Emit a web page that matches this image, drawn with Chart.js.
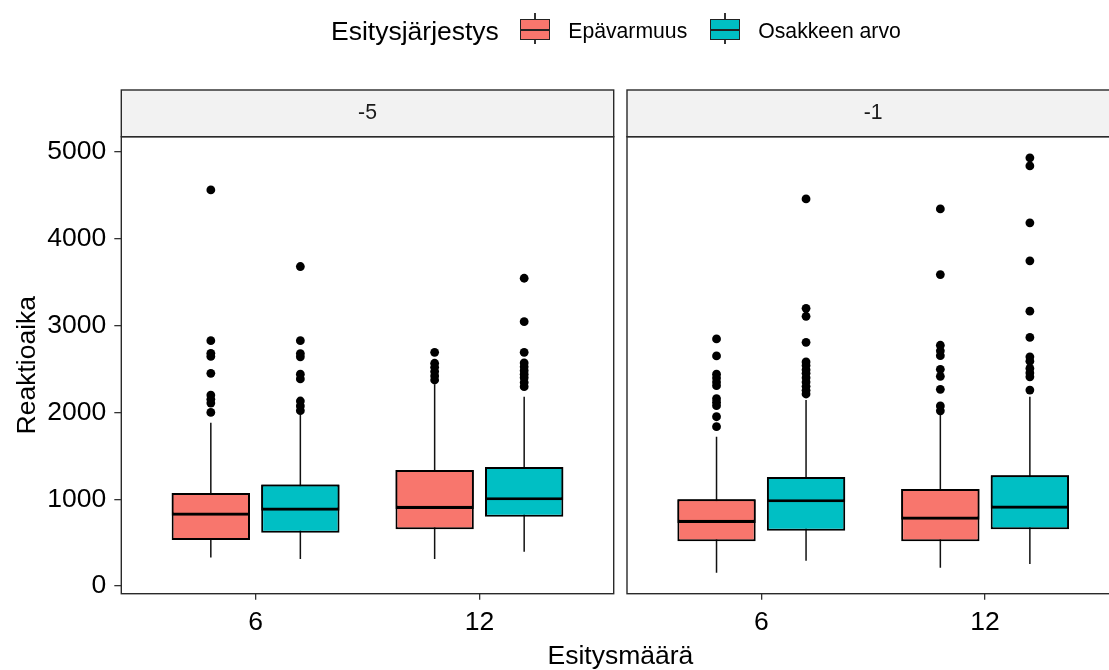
<!DOCTYPE html>
<html>
<head>
<meta charset="utf-8">
<script src="https://cdn.jsdelivr.net/npm/chart.js@4/dist/chart.umd.min.js"></script>
<style>
  html, body { margin: 0; padding: 0; background: #fff; overflow: hidden; width: 1109px; height: 670px; }
  #wrap { position: relative; width: 1109px; height: 670px; overflow: hidden; background: #fff; }
  #chart { position: absolute; left: 0; top: 0; }
  .txt { position: absolute; font-family: "Liberation Sans", Arial, sans-serif; color: #000; white-space: nowrap; }
  .key { position: absolute; width: 30px; height: 31px; }
  .key .wh { position: absolute; left: 14.4px; width: 1.3px; top: 0; height: 100%; background: #333; }
  .key .bx { position: absolute; left: 0; top: 6px; width: 30px; height: 21px; box-sizing: border-box; border: 1.5px solid #222; }
  .key .md { position: absolute; left: 0; width: 30px; top: 15.5px; height: 2px; background: #222; }
</style>
</head>
<body>
<div id="wrap">
  <canvas id="chart" width="1130" height="670" style="width:1130px;height:670px"></canvas>

  <div class="txt" style="left:331px;top:17.6px;font-size:26.5px;line-height:26.5px">Esitysjärjestys</div>
  <div class="key" style="left:520px;top:13.3px"><div class="wh"></div><div class="bx" style="background:#F8766D"></div><div class="md"></div></div>
  <div class="txt" style="left:568.3px;top:19.7px;font-size:21.2px;line-height:21.2px">Epävarmuus</div>
  <div class="key" style="left:710px;top:13.3px"><div class="wh"></div><div class="bx" style="background:#00BFC4"></div><div class="md"></div></div>
  <div class="txt" style="left:758.3px;top:19.7px;font-size:21.2px;line-height:21.2px">Osakkeen arvo</div>

  <div class="txt" style="left:620.4px;top:641.6px;font-size:26.5px;line-height:26.5px;transform:translateX(-50%)">Esitysmäärä</div>
</div>

<script>
// Facets, groups and series
const FACETS = ['-5', '-1'];
const CATEGORIES = ['6', '12'];
const SERIES = ['Epävarmuus', 'Osakkeen arvo'];
const COLORS = ['#F8766D', '#00BFC4'];
const Y_TICKS = [0, 1000, 2000, 3000, 4000, 5000];

// Box statistics, indexed [facet][category]
const EPA_LOWER  = [[330, 311], [153, 211]];
const EPA_Q1     = [[530, 653], [515, 515]];
const EPA_MEDIAN = [[810, 887], [726, 764]];
const EPA_Q3     = [[1071, 1336], [999, 1117]];
const EPA_UPPER  = [[1881, 2323], [1720, 1985]];

const OSA_LOWER  = [[311, 395], [292, 253]];
const OSA_Q1     = [[614, 798], [637, 653]];
const OSA_MEDIAN = [[868, 987], [964, 891]];
const OSA_Q3     = [[1171, 1371], [1256, 1275]];
const OSA_UPPER  = [[1975, 2181], [2143, 2180]];

// Outlying reaction times, indexed [facet][category]
const EPA_OUTLIERS = [
  [[4562, 2826, 2680, 2645, 2450, 2200, 2150, 2108, 2000],
   [2692, 2566, 2520, 2470, 2420, 2373]],
  [[2846, 2650, 2440, 2395, 2350, 2308, 2158, 2117, 2077, 1950, 1835],
   [4343, 3587, 2773, 2710, 2653, 2496, 2415, 2266, 2075, 2018]]
];
const OSA_OUTLIERS = [
  [[3680, 2826, 2677, 2640, 2440, 2385, 2131, 2075, 2020],
   [3545, 3045, 2692, 2570, 2525, 2480, 2440, 2400, 2345, 2296]],
  [[4458, 3199, 3107, 2807, 2581, 2540, 2490, 2450, 2400, 2350, 2300, 2255, 2212],
   [4932, 4839, 4183, 3745, 3166, 2863, 2640, 2590, 2506, 2455, 2410, 2257]]
];

const STATS = [
  { lower: EPA_LOWER, q1: EPA_Q1, median: EPA_MEDIAN, q3: EPA_Q3, upper: EPA_UPPER, out: EPA_OUTLIERS },
  { lower: OSA_LOWER, q1: OSA_Q1, median: OSA_MEDIAN, q3: OSA_Q3, upper: OSA_UPPER, out: OSA_OUTLIERS }
];

// Layout
const CANVAS_W = 1130, CANVAS_H = 670;
const PANEL_LEFT = 121.3, PANEL_RIGHT = 1119.4;
const PANEL_TOP = 136.7, PANEL_BOTTOM = 593.7, STRIP_TOP = 90;
const X_MIN = 0.4, X_MAX = 2.6;          // discrete axis with 0.6 expansion each side
const PANEL_GAP = 13.3;                  // px between facet panels
const PX_PER_UNIT = (PANEL_RIGHT - PANEL_LEFT - PANEL_GAP) / (2 * (X_MAX - X_MIN));
const GAP_UNITS = PANEL_GAP / PX_PER_UNIT;
const DODGE = 0.8;                       // width shared by the two boxes of a group
const BOX_RATIO = 0.875;                 // box width relative to its dodge slot
const FONT = "'Liberation Sans', Arial, sans-serif";
const AXES = ['xA', 'xB'];
const EDGE = 2;                          // box outline width
const MEDIAN_W = 3.2;                    // median line width

// Series s sits left (s = 0) or right (s = 1) of the group centre
const dodgeX = (i, s) => i + 1 + (s === 0 ? -DODGE / 4 : DODGE / 4);

const datasets = [];
FACETS.forEach((facet, f) => {
  SERIES.forEach((name, s) => {
    const st = STATS[s];
    const common = {
      type: 'bar', xAxisID: AXES[f], yAxisID: 'y', grouped: false,
      categoryPercentage: 1, barPercentage: BOX_RATIO, borderSkipped: false, inflateAmount: 0
    };
    // whole box from Q1 to Q3
    datasets.push({ ...common, label: name, order: 2,
      data: CATEGORIES.map((c, i) => ({ x: dodgeX(i, s), y: [st.q1[f][i], st.q3[f][i]] })),
      backgroundColor: COLORS[s], borderColor: '#000', borderWidth: EDGE });
    // upper half laid over it; its lower edge is the median line
    datasets.push({ ...common, label: name, order: 1,
      data: CATEGORIES.map((c, i) => ({ x: dodgeX(i, s), y: [st.median[f][i], st.q3[f][i]] })),
      backgroundColor: COLORS[s], borderColor: '#000',
      borderWidth: { top: EDGE, bottom: MEDIAN_W, left: EDGE, right: EDGE } });
    // whisker from lower to upper fence, drawn behind the box
    datasets.push({ ...common, label: name + ' whisker', order: 3, maxBarThickness: 1.5,
      data: CATEGORIES.map((c, i) => ({ x: dodgeX(i, s), y: [st.lower[f][i], st.upper[f][i]] })),
      backgroundColor: '#111', borderWidth: 0 });
    const pts = [];
    CATEGORIES.forEach((c, i) => {
      st.out[f][i].forEach(v => pts.push({ x: dodgeX(i, s), y: v }));
    });
    datasets.push({ type: 'scatter', label: name + ' outliers', xAxisID: AXES[f], yAxisID: 'y', order: 0,
      data: pts, pointRadius: 4.4, pointBackgroundColor: '#000', pointBorderWidth: 0, showLine: false });
  });
});

function xAxis(min, weight) {
  return {
    type: 'linear', axis: 'x', position: 'bottom', stack: 'facets', stackWeight: weight,
    min, max: X_MAX, offset: false,
    grid: { display: true, drawOnChartArea: false, drawTicks: true, tickLength: 6, offset: false, color: '#333', lineWidth: 1.3 },
    border: { display: false },
    afterBuildTicks: sc => { sc.ticks = CATEGORIES.map((c, i) => ({ value: i + 1 })); },
    ticks: { callback: v => CATEGORIES[Math.round(v) - 1], font: { family: FONT, size: 26.5 }, color: '#000',
             padding: 7, maxRotation: 0, autoSkip: false },
    afterFit: sc => { sc.height = CANVAS_H - PANEL_BOTTOM; }
  };
}

// Panel frames and facet strips
const facetFrame = {
  id: 'facetFrame',
  afterDatasetsDraw(chart) {
    const { ctx, chartArea } = chart;
    AXES.forEach((id, f) => {
      const sc = chart.scales[id];
      const left = sc.getPixelForValue(X_MIN), right = sc.getPixelForValue(X_MAX);
      ctx.save();
      ctx.strokeStyle = '#2a2a2a';
      ctx.lineWidth = 1.4;
      ctx.strokeRect(left, chartArea.top, right - left, chartArea.bottom - chartArea.top);
      ctx.fillStyle = '#F2F2F2';
      ctx.fillRect(left, STRIP_TOP, right - left, chartArea.top - STRIP_TOP);
      ctx.strokeRect(left, STRIP_TOP, right - left, chartArea.top - STRIP_TOP);
      ctx.fillStyle = '#1A1A1A';
      ctx.font = '21.2px ' + FONT;
      ctx.textAlign = 'center';
      ctx.textBaseline = 'middle';
      ctx.fillText(FACETS[f], (left + right) / 2, (STRIP_TOP + chartArea.top) / 2);
      ctx.restore();
    });
  }
};

new Chart(document.getElementById('chart'), {
  type: 'bar',
  data: { datasets },
  options: {
    responsive: false,
    devicePixelRatio: 1,
    animation: false,
    events: [],
    layout: { padding: { left: 0, top: PANEL_TOP, right: CANVAS_W - PANEL_RIGHT, bottom: 0 } },
    plugins: { legend: { display: false }, tooltip: { enabled: false }, title: { display: false } },
    scales: {
      xA: xAxis(X_MIN, X_MAX - X_MIN),
      xB: xAxis(X_MIN - GAP_UNITS, X_MAX - X_MIN + GAP_UNITS),
      y: {
        type: 'linear', position: 'left', min: -88, max: 5175, stacked: false,
        afterBuildTicks: sc => { sc.ticks = Y_TICKS.map(v => ({ value: v })); },
        grid: { display: true, drawOnChartArea: false, drawTicks: true, tickLength: 7, color: '#333', lineWidth: 1.3 },
        border: { display: false },
        ticks: { callback: v => String(v), font: { family: FONT, size: 26.5 }, color: '#000', padding: 8 },
        title: { display: true, text: 'Reaktioaika', font: { family: FONT, size: 26.5 }, color: '#000',
                 padding: { top: 12, bottom: 0 } },
        afterFit: sc => { sc.width = PANEL_LEFT; }
      }
    }
  },
  plugins: [facetFrame]
});
</script>
</body>
</html>
